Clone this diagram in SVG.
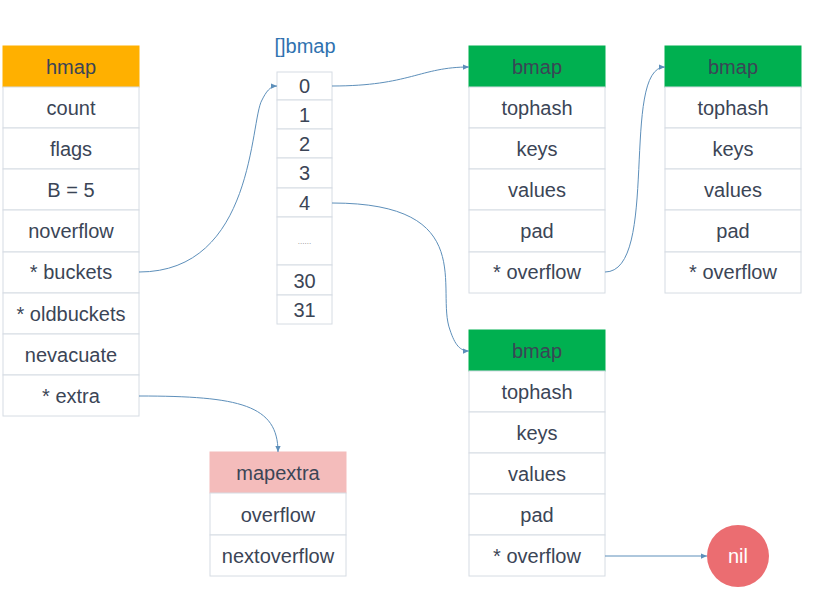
<svg xmlns="http://www.w3.org/2000/svg" width="822" height="596" viewBox="0 0 822 596">
<defs>
<style>
.c{fill:#fff;stroke:#D6DCE3;stroke-width:1}
.t{font-family:"Liberation Sans",Arial,sans-serif;font-size:20px;fill:#3B4556;text-anchor:middle;dominant-baseline:central}
.ln{fill:none;stroke:#5D8FBA;stroke-width:1}
</style>
<marker id="ah" viewBox="0 0 8 8" refX="8" refY="4" markerWidth="6" markerHeight="6" orient="auto" markerUnits="userSpaceOnUse">
<path d="M0,0.5 L8,4 L0,7.5 z" fill="#5D8FBA"/>
</marker>
</defs>
<rect width="822" height="596" fill="#fff"/>

<g id="hmap">
<rect x="3" y="46" width="136" height="41" fill="#FFB000" stroke="#FFB000"/>
<text class="t" x="71" y="67">hmap</text>
<rect class="c" x="3" y="87" width="136" height="41"/><text class="t" x="71" y="108">count</text>
<rect class="c" x="3" y="128" width="136" height="41"/><text class="t" x="71" y="149">flags</text>
<rect class="c" x="3" y="169" width="136" height="41"/><text class="t" x="71" y="190">B = 5</text>
<rect class="c" x="3" y="210" width="136" height="42"/><text class="t" x="71" y="231">noverflow</text>
<rect class="c" x="3" y="252" width="136" height="41"/><text class="t" x="71" y="272">* buckets</text>
<rect class="c" x="3" y="293" width="136" height="41"/><text class="t" x="71" y="314">* oldbuckets</text>
<rect class="c" x="3" y="334" width="136" height="41"/><text class="t" x="71" y="355">nevacuate</text>
<rect class="c" x="3" y="375" width="136" height="41"/><text class="t" x="71" y="396">* extra</text>
</g>

<g id="bmap-array">
<text class="t" x="305" y="46" style="fill:#2F72B0">[]bmap</text>
<rect class="c" x="277" y="72" width="55" height="28"/><text class="t" x="304.5" y="86">0</text>
<rect class="c" x="277" y="100" width="55" height="29"/><text class="t" x="304.5" y="115">1</text>
<rect class="c" x="277" y="129" width="55" height="29"/><text class="t" x="304.5" y="144">2</text>
<rect class="c" x="277" y="158" width="55" height="30"/><text class="t" x="304.5" y="173">3</text>
<rect class="c" x="277" y="188" width="55" height="29"/><text class="t" x="304.5" y="203">4</text>
<rect class="c" x="277" y="217" width="55" height="48"/><text class="t" x="304.5" y="241" style="font-size:8px;fill:#888">......</text>
<rect class="c" x="277" y="265" width="55" height="30"/><text class="t" x="304.5" y="281">30</text>
<rect class="c" x="277" y="295" width="55" height="29"/><text class="t" x="304.5" y="310">31</text>
</g>

<g id="bmap1">
<rect x="469" y="46" width="136" height="41" fill="#00B050" stroke="#00B050"/>
<text class="t" x="537" y="67">bmap</text>
<rect class="c" x="469" y="87" width="136" height="41"/><text class="t" x="537" y="108">tophash</text>
<rect class="c" x="469" y="128" width="136" height="41"/><text class="t" x="537" y="149">keys</text>
<rect class="c" x="469" y="169" width="136" height="41"/><text class="t" x="537" y="190">values</text>
<rect class="c" x="469" y="210" width="136" height="42"/><text class="t" x="537" y="231">pad</text>
<rect class="c" x="469" y="252" width="136" height="41"/><text class="t" x="537" y="272">* overflow</text>
</g>

<g id="bmap2">
<rect x="665" y="46" width="136" height="41" fill="#00B050" stroke="#00B050"/>
<text class="t" x="733" y="67">bmap</text>
<rect class="c" x="665" y="87" width="136" height="41"/><text class="t" x="733" y="108">tophash</text>
<rect class="c" x="665" y="128" width="136" height="41"/><text class="t" x="733" y="149">keys</text>
<rect class="c" x="665" y="169" width="136" height="41"/><text class="t" x="733" y="190">values</text>
<rect class="c" x="665" y="210" width="136" height="42"/><text class="t" x="733" y="231">pad</text>
<rect class="c" x="665" y="252" width="136" height="41"/><text class="t" x="733" y="272">* overflow</text>
</g>

<g id="bmap3">
<rect x="469" y="330" width="136" height="41" fill="#00B050" stroke="#00B050"/>
<text class="t" x="537" y="351">bmap</text>
<rect class="c" x="469" y="371" width="136" height="41"/><text class="t" x="537" y="392">tophash</text>
<rect class="c" x="469" y="412" width="136" height="41"/><text class="t" x="537" y="433">keys</text>
<rect class="c" x="469" y="453" width="136" height="41"/><text class="t" x="537" y="474">values</text>
<rect class="c" x="469" y="494" width="136" height="41"/><text class="t" x="537" y="515">pad</text>
<rect class="c" x="469" y="535" width="136" height="41"/><text class="t" x="537" y="556">* overflow</text>
</g>

<g id="mapextra">
<rect x="210" y="452" width="136" height="41" fill="#F4BCBB" stroke="#F4BCBB"/>
<text class="t" x="278" y="473">mapextra</text>
<rect class="c" x="210" y="493" width="136" height="42"/><text class="t" x="278" y="515">overflow</text>
<rect class="c" x="210" y="535" width="136" height="41"/><text class="t" x="278" y="556">nextoverflow</text>
</g>

<g id="nil">
<circle cx="738" cy="556" r="31" fill="#EB6D71"/>
<text class="t" x="738" y="556" style="fill:#fff">nil</text>
</g>

<g id="connectors">
<path class="ln" d="M139,272 C255,272 250,120 262,100 C266,92 270,86 277,86" marker-end="url(#ah)"/>
<path class="ln" d="M332,86 C410,86 420,67 469,67" marker-end="url(#ah)"/>
<path class="ln" d="M332,203 C480,203 435,290 450,330 C455,345 460,351 469,351" marker-end="url(#ah)"/>
<path class="ln" d="M605,272 C660,272 620,67 665,67" marker-end="url(#ah)"/>
<path class="ln" d="M139,396 C240,396 278,405 278,452" marker-end="url(#ah)"/>
<path class="ln" d="M605,556 L707,556" marker-end="url(#ah)"/>
</g>
</svg>
